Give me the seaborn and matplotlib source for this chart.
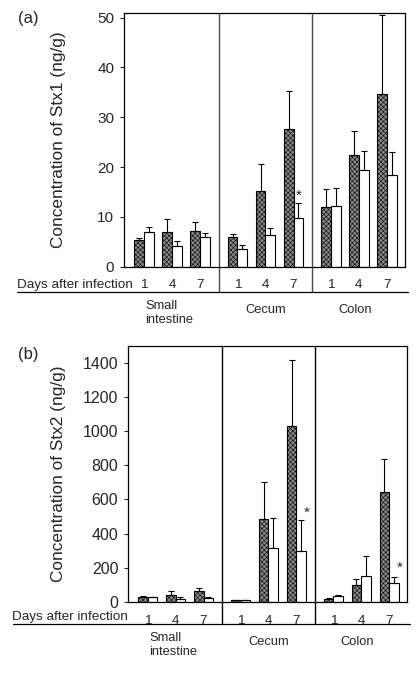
import numpy as np
import pandas as pd
import matplotlib
matplotlib.use("Agg")
import matplotlib.pyplot as plt
import seaborn as sns

sns.set_style("white")
plt.rcParams['font.family'] = ['Liberation Sans', 'DejaVu Sans']
plt.rcParams['hatch.linewidth'] = 0.4

# ---------------- data ----------------
sites = ["Small\nintestine", "Cecum", "Colon"]
days = ["1", "4", "7"]
strains = ["dark", "white"]

# Panel (a) Stx1 (ng/g): means and top of error bars, order site x day
stx1_dark = [5.35, 6.9, 7.1, 5.9, 15.2, 27.6, 11.9, 22.4, 34.6]
stx1_dark_top = [5.7, 9.6, 8.9, 6.55, 20.6, 35.2, 15.6, 27.2, 50.5]
stx1_white = [7.0, 4.2, 5.9, 3.6, 6.3, 9.8, 12.2, 19.4, 18.5]
stx1_white_top = [7.9, 5.2, 6.7, 4.3, 7.8, 12.7, 15.8, 23.2, 23.0]
stx1_star = [(5, 14.2)]  # (bar index, y) for asterisk on white bar

# Panel (b) Stx2 (ng/g)
stx2_dark = [32, 43, 65, 10, 483, 1030, 16, 98, 641]
stx2_dark_top = [36, 65, 82, 10, 702, 1415, 22, 133, 839]
stx2_white = [29, 20, 23, 10, 317, 297, 33, 150, 109]
stx2_white_top = [31, 31, 27, 10, 489, 479, 43, 270, 145]
stx2_star = [(5, 520), (8, 200)]

panels = [
    dict(ylabel="Concentration of Stx1 (ng/g)", dark=stx1_dark, dtop=stx1_dark_top,
         white=stx1_white, wtop=stx1_white_top, stars=stx1_star, star_dx=0.0, ylim=(0, 51),
         yticks=np.arange(0, 51, 10), rect=[124/419, 1-266.7/674, 281/419, 254/674],
         tickfs=11, labelpad=22.4, divcol="#4a4a4a",
         line_y=-0.10, line_x0=(17-124)/281, text_x=(17-124)/281),
    dict(ylabel="Concentration of Stx2 (ng/g)", dark=stx2_dark, dtop=stx2_dark_top,
         white=stx2_white, wtop=stx2_white_top, stars=stx2_star, star_dx=0.2, ylim=(0, 1500),
         yticks=np.arange(0, 1401, 200), rect=[128/419, 1-602/674, 279/419, 256.3/674],
         tickfs=11.5, labelpad=12.3, divcol="black",
         line_y=-0.086, line_x0=(13-128)/279, text_x=(12-128)/279),
]

GAP = 1.33
positions = [g * (2 + GAP) + d for g in range(3) for d in range(3)]
WIDTH = 0.69
DARK = "#8a8a8a"

fig = plt.figure(figsize=(4.19, 6.74), dpi=100)

for p in panels:
    ax = fig.add_axes(p["rect"])
    df = pd.DataFrame({
        "pos": positions * 2,
        "val": list(p["dark"]) + list(p["white"]),
        "strain": ["dark"] * 9 + ["white"] * 9,
    })
    sns.barplot(data=df, x="pos", y="val", hue="strain", hue_order=strains,
                native_scale=True, width=WIDTH, errorbar=None,
                palette={"dark": DARK, "white": "white"},
                edgecolor="black", linewidth=0.8, legend=False, ax=ax)
    for patch in ax.patches:
        fc = patch.get_facecolor()
        if fc[0] < 0.9:
            patch.set_hatch("xxxxxxx")
    half = WIDTH / 4
    pos = np.array(positions)
    dark = np.array(p["dark"], float)
    white = np.array(p["white"], float)
    derr = np.array(p["dtop"], float) - dark
    werr = np.array(p["wtop"], float) - white
    ax.errorbar(pos - half, dark, yerr=[np.zeros(9), derr], fmt="none",
                ecolor="black", elinewidth=0.8, capsize=2, capthick=0.8, zorder=3)
    ax.errorbar(pos + half, white, yerr=[np.zeros(9), werr], fmt="none",
                ecolor="black", elinewidth=0.8, capsize=2, capthick=0.8, zorder=3)
    for idx, yy in p["stars"]:
        ax.text(pos[idx] + half + p["star_dx"], yy, "*", ha="center", va="center", fontsize=11)

    ax.set_xlim(pos[0] - 0.71, pos[-1] + 0.64)
    ax.set_ylim(*p["ylim"])
    ax.set_yticks(p["yticks"])
    ax.tick_params(axis="y", labelsize=p["tickfs"], length=3, width=0.8,
                   direction="out", left=True, pad=4)
    ax.set_xticks(positions)
    ax.set_xticklabels(days * 3, fontsize=9.7)
    ax.tick_params(axis="x", length=0, pad=9)
    ax.set_xlabel("")
    ax.set_ylabel(p["ylabel"], fontsize=12.4, labelpad=p["labelpad"])
    for s in ax.spines.values():
        s.set_color("black")
        s.set_linewidth(0.9)
        s.set_visible(True)

    # group dividers
    for g in range(2):
        xd = (pos[3 * g + 2] + pos[3 * g + 3]) / 2
        ax.plot([xd, xd], [p["line_y"], 1], transform=ax.get_xaxis_transform(),
                color=p["divcol"], lw=1.0, clip_on=False)
    ax.plot([p["line_x0"], 1.01], [p["line_y"], p["line_y"]], transform=ax.transAxes,
            color="black", lw=0.9, clip_on=False)
    ax.text(p["text_x"], p["line_y"] + 0.003, "Days after infection", transform=ax.transAxes,
            ha="left", va="bottom", fontsize=9.7)
    # group labels
    ax.text(pos[0] + 0.05, p["line_y"] - 0.03, sites[0], transform=ax.get_xaxis_transform(),
            ha="left", va="top", fontsize=9.3, linespacing=1.2)
    ax.text(pos[4], p["line_y"] - 0.045, sites[1], transform=ax.get_xaxis_transform(),
            ha="center", va="top", fontsize=9.3)
    ax.text(pos[7] - 0.15, p["line_y"] - 0.045, sites[2], transform=ax.get_xaxis_transform(),
            ha="center", va="top", fontsize=9.3)

fig.text(18 / 419, 1 - 19 / 674, "(a)", ha="left", va="center", fontsize=12)
fig.text(18 / 419, 1 - 355 / 674, "(b)", ha="left", va="center", fontsize=12)

fig.savefig("out.png", dpi=100)
